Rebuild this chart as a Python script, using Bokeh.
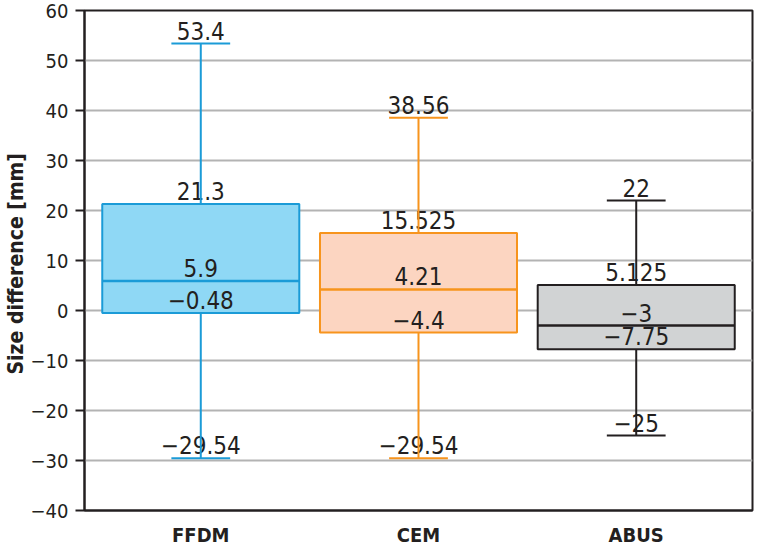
from bokeh.plotting import figure
from bokeh.models import ColumnDataSource, FactorRange, Range1d, FixedTicker
from bokeh.transform import dodge
from bokeh.core.properties import value
from bokeh.embed import file_html
from bokeh.resources import INLINE

categories = ["FFDM", "CEM", "ABUS"]
upper = [53.4, 38.56, 22]
q3 = [21.3, 15.525, 5.125]
median = [5.9, 4.21, -3]
q1 = [-0.48, -4.4, -7.75]
lower = [-29.54, -29.54, -25]
fill_colors = ["#8FD8F5", "#FCD5C1", "#D1D3D4"]
line_colors = ["#1B9BD7", "#F7941D", "#231F20"]
y_ticks = [-40, -30, -20, -10, 0, 10, 20, 30, 40, 50, 60]
y_tick_labels = [str(t).replace("-", "\u2212") for t in y_ticks]

FONT = "DejaVu Sans Condensed"

def fmt(v):
    s = ("%g" % v)
    return s.replace("-", "\u2212")

src = ColumnDataSource(dict(
    cat=categories, upper=upper, q3=q3, median=median, q1=q1, lower=lower,
    fill=fill_colors, line=line_colors,
))

p = figure(
    x_range=FactorRange(factors=categories, range_padding=0.0227),
    y_range=Range1d(-40, 60),
    width=754, height=549,
    output_backend="svg", toolbar_location=None,
    min_border_left=80, min_border_right=2, min_border_top=10, min_border_bottom=37,
)
p.background_fill_color = "white"
p.border_fill_color = "white"
p.outline_line_color = "#231F20"
p.outline_line_width = 2

# grid
p.xgrid.grid_line_color = None
p.ygrid.grid_line_color = "#B3B3B3"
p.ygrid.grid_line_width = 2
p.yaxis.ticker = FixedTicker(ticks=y_ticks)
p.yaxis.major_label_overrides = {t: l for t, l in zip(y_ticks, y_tick_labels)}

# axes
for ax in (p.xaxis, p.yaxis):
    ax.axis_line_color = "#231F20"
    ax.axis_line_width = 2
    ax.major_tick_line_color = "#231F20"
    ax.major_tick_line_width = 2
    ax.minor_tick_line_color = None
    ax.major_label_text_color = "#231F20"
    ax.major_label_text_font = FONT

p.yaxis.major_tick_out = 9
p.yaxis.major_tick_in = 0
p.yaxis.major_label_text_font_size = "20px"
p.yaxis.major_label_standoff = 7
p.yaxis.axis_label = "Size  difference [mm]"
p.yaxis.axis_label_text_font = FONT
p.yaxis.axis_label_text_font_style = "bold"
p.yaxis.axis_label_text_font_size = "21px"
p.yaxis.axis_label_text_color = "#231F20"
p.yaxis.axis_label_standoff = 0

p.xaxis.major_tick_line_color = None
p.xaxis.major_tick_out = 0
p.xaxis.major_tick_in = 0
p.xaxis.major_label_text_font_size = "20px"
p.xaxis.major_label_text_font_style = "bold"
p.xaxis.major_label_standoff = 12

# boxes
p.vbar(x="cat", top="q3", bottom="q1", width=0.905, source=src,
       fill_color="fill", line_color="line", line_width=2)

# labels (drawn beneath whisker lines)
label_vals = []
label_cats = []
for i, c in enumerate(categories):
    for arr in (upper, q3, median, q1, lower):
        label_cats.append(c)
        label_vals.append(arr[i])
lab_src = ColumnDataSource(dict(cat=label_cats, y=label_vals,
                                text=[fmt(v) for v in label_vals]))
p.text(x="cat", y="y", text="text", source=lab_src,
       text_align="center", text_baseline="bottom", y_offset=-4,
       text_font=value(FONT), text_font_size="24px", text_color="#231F20")

# whisker stems
p.segment(x0="cat", x1="cat", y0="q3", y1="upper", source=src,
          line_color="line", line_width=2)
p.segment(x0="cat", x1="cat", y0="q1", y1="lower", source=src,
          line_color="line", line_width=2)
# caps
cw = 0.135
p.segment(x0=dodge("cat", -cw, range=p.x_range), x1=dodge("cat", cw, range=p.x_range),
          y0="upper", y1="upper", source=src, line_color="line", line_width=2)
p.segment(x0=dodge("cat", -cw, range=p.x_range), x1=dodge("cat", cw, range=p.x_range),
          y0="lower", y1="lower", source=src, line_color="line", line_width=2)
# medians
mw = 0.4525
p.segment(x0=dodge("cat", -mw, range=p.x_range), x1=dodge("cat", mw, range=p.x_range),
          y0="median", y1="median", source=src, line_color="line", line_width=2.5)

open("out.html", "w").write(file_html(p, INLINE))
